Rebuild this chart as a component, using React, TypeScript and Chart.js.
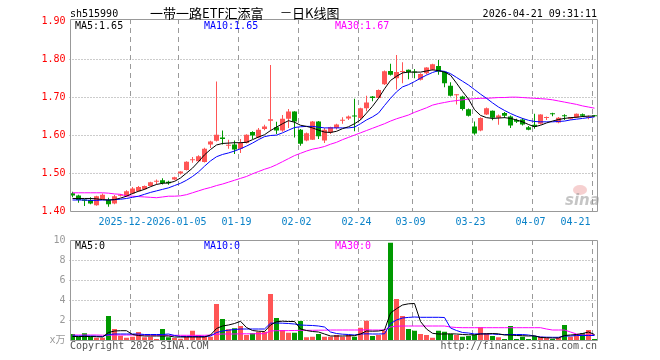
import React, { useEffect, useRef } from "react";
import { Chart, registerables } from "chart.js";

Chart.register(...registerables);

const MONO = "'DejaVu Sans Mono', 'Liberation Mono', 'Noto Sans CJK SC', monospace";
const CJK = "'Noto Sans CJK SC', sans-serif";
const RED = "#ff5555";
const GREEN = "#009900";

const dates = [
  "2025-12-08", "2025-12-09", "2025-12-10", "2025-12-11", "2025-12-12", "2025-12-15", "2025-12-16", "2025-12-17", "2025-12-18", "2025-12-19",
  "2025-12-22", "2025-12-23", "2025-12-24", "2025-12-25", "2025-12-26", "2025-12-29", "2025-12-30", "2025-12-31", "2026-01-05", "2026-01-06",
  "2026-01-07", "2026-01-08", "2026-01-09", "2026-01-12", "2026-01-13", "2026-01-14", "2026-01-15", "2026-01-16", "2026-01-19", "2026-01-20",
  "2026-01-21", "2026-01-22", "2026-01-23", "2026-01-26", "2026-01-27", "2026-01-28", "2026-01-29", "2026-01-30", "2026-02-02", "2026-02-03",
  "2026-02-04", "2026-02-05", "2026-02-06", "2026-02-09", "2026-02-10", "2026-02-11", "2026-02-12", "2026-02-13", "2026-02-24", "2026-02-25",
  "2026-02-26", "2026-02-27", "2026-03-02", "2026-03-03", "2026-03-04", "2026-03-05", "2026-03-06", "2026-03-09", "2026-03-10", "2026-03-11",
  "2026-03-12", "2026-03-13", "2026-03-16", "2026-03-17", "2026-03-18", "2026-03-19", "2026-03-20", "2026-03-23", "2026-03-24", "2026-03-25",
  "2026-03-26", "2026-03-27", "2026-03-30", "2026-03-31", "2026-04-01", "2026-04-02", "2026-04-03", "2026-04-07", "2026-04-08", "2026-04-09",
  "2026-04-10", "2026-04-13", "2026-04-14", "2026-04-15", "2026-04-16", "2026-04-17", "2026-04-20", "2026-04-21",
];

const openP = [
  1.447, 1.441, 1.430, 1.429, 1.415, 1.431, 1.429, 1.420, 1.440, 1.439,
  1.446, 1.452, 1.457, 1.466, 1.477, 1.481, 1.477, 1.483, 1.499, 1.508,
  1.534, 1.531, 1.529, 1.575, 1.585, 1.594, 1.572, 1.575, 1.564, 1.579,
  1.608, 1.594, 1.616, 1.638, 1.621, 1.612, 1.643, 1.662, 1.614, 1.586,
  1.588, 1.636, 1.586, 1.607, 1.619, 1.638, 1.644, 1.651, 1.645, 1.671,
  1.702, 1.698, 1.734, 1.769, 1.750, 1.766, 1.772, 1.767, 1.746, 1.763,
  1.772, 1.782, 1.767, 1.730, 1.705, 1.702, 1.668, 1.623, 1.612, 1.654,
  1.664, 1.646, 1.658, 1.649, 1.640, 1.641, 1.621, 1.627, 1.630, 1.645,
  1.656, 1.633, 1.651, 1.643, 1.647, 1.655, 1.645, 1.651,
];
const highP = [
  1.451, 1.443, 1.431, 1.436, 1.440, 1.446, 1.435, 1.442, 1.445, 1.455,
  1.463, 1.466, 1.467, 1.477, 1.483, 1.486, 1.480, 1.490, 1.505, 1.531,
  1.542, 1.547, 1.567, 1.585, 1.741, 1.612, 1.588, 1.586, 1.590, 1.602,
  1.610, 1.619, 1.627, 1.785, 1.635, 1.653, 1.669, 1.663, 1.616, 1.607,
  1.637, 1.637, 1.619, 1.622, 1.630, 1.647, 1.652, 1.696, 1.672, 1.704,
  1.703, 1.720, 1.770, 1.788, 1.811, 1.792, 1.773, 1.774, 1.763, 1.779,
  1.788, 1.798, 1.768, 1.739, 1.708, 1.704, 1.670, 1.636, 1.647, 1.673,
  1.665, 1.654, 1.661, 1.652, 1.643, 1.645, 1.624, 1.656, 1.655, 1.649,
  1.659, 1.648, 1.655, 1.648, 1.657, 1.657, 1.652, 1.653,
];
const lowP = [
  1.436, 1.422, 1.413, 1.418, 1.414, 1.430, 1.411, 1.418, 1.438, 1.437,
  1.444, 1.451, 1.456, 1.465, 1.470, 1.470, 1.469, 1.481, 1.496, 1.507,
  1.527, 1.529, 1.528, 1.566, 1.583, 1.575, 1.564, 1.550, 1.553, 1.578,
  1.590, 1.592, 1.613, 1.610, 1.603, 1.609, 1.619, 1.594, 1.572, 1.584,
  1.587, 1.590, 1.579, 1.603, 1.615, 1.630, 1.640, 1.610, 1.640, 1.663,
  1.689, 1.697, 1.732, 1.757, 1.720, 1.737, 1.747, 1.750, 1.744, 1.760,
  1.770, 1.759, 1.726, 1.702, 1.681, 1.665, 1.649, 1.601, 1.610, 1.653,
  1.639, 1.627, 1.645, 1.619, 1.632, 1.625, 1.613, 1.617, 1.628, 1.640,
  1.650, 1.631, 1.640, 1.641, 1.645, 1.648, 1.642, 1.649,
];
const closeP = [
  1.441, 1.429, 1.427, 1.420, 1.439, 1.443, 1.418, 1.439, 1.443, 1.452,
  1.459, 1.463, 1.466, 1.476, 1.479, 1.474, 1.473, 1.489, 1.504, 1.530,
  1.536, 1.544, 1.564, 1.583, 1.601, 1.590, 1.574, 1.562, 1.579, 1.601,
  1.599, 1.614, 1.623, 1.642, 1.612, 1.643, 1.662, 1.636, 1.577, 1.605,
  1.636, 1.597, 1.614, 1.621, 1.628, 1.640, 1.649, 1.649, 1.671, 1.686,
  1.698, 1.719, 1.768, 1.759, 1.766, 1.768, 1.766, 1.765, 1.761, 1.778,
  1.787, 1.767, 1.737, 1.704, 1.708, 1.669, 1.651, 1.604, 1.645, 1.671,
  1.646, 1.652, 1.651, 1.625, 1.635, 1.628, 1.614, 1.622, 1.654, 1.646,
  1.655, 1.646, 1.650, 1.647, 1.656, 1.651, 1.648, 1.650,
];

const ma5 = [
  1.433, 1.433, 1.433, 1.433, 1.432, 1.430, 1.429, 1.430, 1.434, 1.439,
  1.446, 1.452, 1.457, 1.464, 1.470, 1.473, 1.474, 1.478, 1.487, 1.500,
  1.513, 1.530, 1.548, 1.562, 1.574, 1.578, 1.579, 1.580, 1.580, 1.581,
  1.588, 1.595, 1.601, 1.612, 1.621, 1.630, 1.638, 1.634, 1.626, 1.623,
  1.619, 1.613, 1.608, 1.607, 1.610, 1.617, 1.622, 1.630, 1.640, 1.658,
  1.676, 1.697, 1.722, 1.744, 1.755, 1.764, 1.766, 1.766, 1.766, 1.769,
  1.772, 1.770, 1.766, 1.758, 1.737, 1.715, 1.695, 1.667, 1.652, 1.646,
  1.644, 1.645, 1.646, 1.644, 1.640, 1.635, 1.628, 1.622, 1.626, 1.632,
  1.637, 1.641, 1.644, 1.646, 1.647, 1.649, 1.650, 1.650,
];
const ma10 = [
  1.429, 1.429, 1.429, 1.428, 1.428, 1.429, 1.429, 1.430, 1.431, 1.433,
  1.436, 1.439, 1.444, 1.449, 1.453, 1.457, 1.461, 1.467, 1.473, 1.481,
  1.491, 1.503, 1.518, 1.532, 1.543, 1.549, 1.553, 1.558, 1.564, 1.571,
  1.579, 1.588, 1.596, 1.599, 1.600, 1.606, 1.613, 1.620, 1.622, 1.623,
  1.623, 1.621, 1.619, 1.619, 1.619, 1.619, 1.619, 1.621, 1.630, 1.640,
  1.648, 1.658, 1.678, 1.697, 1.714, 1.727, 1.733, 1.741, 1.750, 1.758,
  1.765, 1.770, 1.768, 1.762, 1.752, 1.742, 1.732, 1.720, 1.708, 1.697,
  1.685, 1.674, 1.665, 1.657, 1.650, 1.644, 1.639, 1.636, 1.635, 1.635,
  1.635, 1.636, 1.637, 1.640, 1.642, 1.644, 1.646, 1.648,
];
const ma30 = [
  1.448, 1.448, 1.448, 1.448, 1.448, 1.448, 1.447, 1.445, 1.444, 1.440,
  1.439, 1.438, 1.437, 1.436, 1.435, 1.437, 1.439, 1.439, 1.440, 1.443,
  1.448, 1.453, 1.458, 1.462, 1.467, 1.471, 1.476, 1.481, 1.486, 1.491,
  1.498, 1.504, 1.510, 1.515, 1.522, 1.530, 1.538, 1.546, 1.552, 1.558,
  1.563, 1.566, 1.570, 1.576, 1.581, 1.588, 1.594, 1.600, 1.606, 1.612,
  1.618, 1.624, 1.630, 1.637, 1.643, 1.648, 1.653, 1.660, 1.666, 1.672,
  1.679, 1.683, 1.686, 1.689, 1.691, 1.693, 1.695, 1.696, 1.697, 1.697,
  1.698, 1.699, 1.699, 1.700, 1.700, 1.699, 1.698, 1.697, 1.696, 1.695,
  1.693, 1.690, 1.687, 1.684, 1.681, 1.677, 1.674, 1.671,
];

const volume = [
  0.6, 0.33, 0.67, 0.33, 0.23, 0.23, 2.4, 1.1, 0.43, 0.23,
  0.33, 0.8, 0.27, 0.33, 0.1, 1.1, 0.27, 0.2, 0.13, 0.33,
  0.93, 0.5, 0.4, 0.33, 3.6, 2.1, 1.07, 1.17, 1.4, 0.5,
  0.67, 0.83, 0.83, 4.6, 2.2, 1.0, 0.73, 0.73, 1.9, 0.27,
  0.33, 0.6, 0.33, 0.33, 0.5, 0.33, 0.5, 0.33, 1.23, 1.93,
  0.4, 0.5, 0.93, 9.73, 4.1, 2.4, 1.1, 0.93, 0.6, 0.5,
  0.23, 0.93, 0.83, 0.6, 0.5, 0.33, 0.4, 0.5, 1.27, 0.67,
  0.4, 0.27, 0.1, 1.4, 0.1, 0.33, 0.1, 0.4, 0.33, 0.2,
  0.1, 0.23, 1.5, 0.33, 0.57, 0.67, 1.0, 0.1,
];
const volMa5 = [
  0.35, 0.35, 0.35, 0.35, 0.33, 0.3, 0.75, 0.9, 0.93, 0.93,
  0.55, 0.45, 0.4, 0.4, 0.4, 0.4, 0.4, 0.3, 0.3, 0.3,
  0.3, 0.3, 0.3, 0.5, 1.15, 1.4, 1.5, 1.65, 1.87, 1.25,
  0.95, 0.88, 0.85, 1.5, 1.83, 1.88, 1.85, 1.85, 1.1, 0.95,
  0.85, 0.8, 0.6, 0.4, 0.4, 0.4, 0.42, 0.43, 0.6, 0.9,
  0.88, 0.9, 1.0, 2.7, 3.13, 3.5, 3.62, 3.65, 1.85, 1.1,
  0.67, 0.6, 0.6, 0.62, 0.6, 0.55, 0.52, 0.52, 0.6, 0.62,
  0.65, 0.62, 0.5, 0.5, 0.45, 0.43, 0.4, 0.42, 0.25, 0.23,
  0.2, 0.2, 0.45, 0.5, 0.55, 0.65, 0.8, 0.55,
];
const volMa10 = [
  0.4, 0.4, 0.4, 0.4, 0.38, 0.35, 0.55, 0.6, 0.6, 0.6,
  0.6, 0.6, 0.55, 0.55, 0.55, 0.55, 0.6, 0.45, 0.35, 0.35,
  0.35, 0.35, 0.35, 0.4, 0.75, 0.9, 0.98, 1.05, 1.1, 1.1,
  1.1, 1.1, 1.1, 1.68, 1.7, 1.68, 1.65, 1.6, 1.5, 1.47,
  1.45, 1.4, 1.3, 0.8, 0.65, 0.58, 0.55, 0.5, 0.6, 0.62,
  0.6, 0.6, 0.62, 1.64, 2.0, 2.2, 2.26, 2.3, 2.27, 2.27,
  2.27, 2.27, 2.25, 1.2, 0.95, 0.75, 0.7, 0.6, 0.62, 0.6,
  0.6, 0.55, 0.55, 0.55, 0.55, 0.55, 0.5, 0.4, 0.3, 0.28,
  0.27, 0.27, 0.4, 0.4, 0.45, 0.45, 0.45, 0.45,
];
const volMa30 = [
  0.5, 0.5, 0.5, 0.5, 0.5, 0.48, 0.48, 0.5, 0.5, 0.5,
  0.5, 0.5, 0.48, 0.48, 0.47, 0.47, 0.47, 0.47, 0.47, 0.47,
  0.47, 0.47, 0.47, 0.5, 0.57, 0.6, 0.6, 0.6, 0.62, 0.62,
  0.62, 0.63, 0.63, 0.9, 0.93, 0.93, 0.94, 0.95, 0.97, 0.97,
  0.97, 0.98, 0.98, 1.0, 1.0, 1.0, 1.0, 1.0, 1.0, 1.02,
  1.0, 1.0, 1.0, 1.3, 1.38, 1.4, 1.4, 1.4, 1.4, 1.4,
  1.4, 1.4, 1.4, 1.3, 1.25, 1.23, 1.23, 1.23, 1.23, 1.23,
  1.23, 1.23, 1.23, 1.23, 1.23, 1.23, 1.23, 1.23, 1.23, 1.1,
  1.0, 1.0, 1.0, 0.8, 0.6, 0.5, 0.5, 0.5,
];

const tickIdx = [10, 18, 28, 38, 48, 57, 67, 77, 87];
const tickText = ["2025-12-22", "2026-01-05", "01-19", "02-02", "02-24", "03-09", "03-23", "04-07", "04-21"];
const priceTicks = [1.4, 1.5, 1.6, 1.7, 1.8, 1.9];
const volTicks = [0, 2, 4, 6, 8, 10];
const volUnit = "x万";

const symbol = "sh515990";
const titleName = "一带一路ETF汇添富";
const titleDash = "一";
const titleKind = "日K线图";
const stamp = "2026-04-21 09:31:11";
const priceLegend = ["MA5:1.65", "MA10:1.65", "MA30:1.67"];
const volLegend = ["MA5:0", "MA10:0", "MA30:0"];
const legendColors = ["#000000", "#0000ff", "#ff00ff"];

const candleColors = closeP.map((c, i) => (c >= openP[i] ? RED : GREEN));

function xAxis(h: number) {
  return {
    type: "category" as const,
    offset: true,
    ticks: { display: false, autoSkip: false },
    grid: { display: false, offset: true, drawTicks: false },
    border: { display: false },
    afterFit: (s: any) => {
      s.height = h;
    },
  };
}

function makeGridPlugin(yTicks: number[]) {
  return {
    id: "sinaGrid",
    beforeDatasetsDraw(chart: any) {
      const ctx: CanvasRenderingContext2D = chart.ctx;
      const a = chart.chartArea;
      const xs = chart.scales.x;
      const ys = chart.scales.y;
      ctx.save();
      ctx.lineWidth = 1;
      ctx.strokeStyle = "#999999";
      ctx.setLineDash([1, 2]);
      yTicks.forEach((v) => {
        if (v <= ys.min + 1e-9 || v >= ys.max - (ys.max - ys.min) * 0.02) return;
        const y = Math.floor(ys.getPixelForValue(v)) + 0.5;
        ctx.beginPath();
        ctx.moveTo(a.left, y);
        ctx.lineTo(a.right, y);
        ctx.stroke();
      });
      const slot = xs.getPixelForValue(1) - xs.getPixelForValue(0);
      ctx.strokeStyle = "#9a9a9a";
      ctx.setLineDash([5, 4]);
      tickIdx.forEach((idx) => {
        const x = Math.round(xs.getPixelForValue(idx) - slot / 2) + 0.5;
        ctx.beginPath();
        ctx.moveTo(x, a.top);
        ctx.lineTo(x, a.bottom);
        ctx.stroke();
      });
      ctx.restore();
    },
  };
}

function drawFrame(ctx: CanvasRenderingContext2D, a: any) {
  const L = Math.round(a.left) + 0.5;
  const R = Math.floor(a.right) + 0.5;
  const T = Math.floor(a.top) + 0.5;
  const B = Math.floor(a.bottom) + 0.5;
  ctx.strokeStyle = "#999999";
  ctx.lineWidth = 1;
  ctx.setLineDash([]);
  ctx.beginPath();
  ctx.moveTo(L, T);
  ctx.lineTo(R, T);
  ctx.lineTo(R, B);
  ctx.lineTo(L, B);
  ctx.closePath();
  ctx.stroke();
}

function drawLegend(ctx: CanvasRenderingContext2D, texts: string[], y: number) {
  const xs = [75, 204, 335];
  ctx.font = `10px ${MONO}`;
  ctx.textAlign = "left";
  ctx.textBaseline = "alphabetic";
  texts.forEach((t, k) => {
    ctx.fillStyle = legendColors[k];
    ctx.fillText(t, xs[k], y);
  });
}

const pricePlugin = {
  id: "priceDecor",
  afterDraw(chart: any) {
    const ctx: CanvasRenderingContext2D = chart.ctx;
    const a = chart.chartArea;
    const xs = chart.scales.x;
    ctx.save();
    drawFrame(ctx, a);
    ctx.textBaseline = "alphabetic";
    ctx.font = `10px ${MONO}`;
    ctx.fillStyle = "#000";
    ctx.textAlign = "left";
    ctx.fillText(symbol, 70, 17);
    ctx.textAlign = "right";
    ctx.fillText(stamp, 597, 17);
    ctx.textAlign = "left";
    ctx.textBaseline = "middle";
    ctx.font = `13px ${CJK}`;
    ctx.fillText(titleName, 150, 13);
    ctx.font = `10px ${CJK}`;
    ctx.fillText(titleDash, 281, 13);
    ctx.font = `13px ${CJK}`;
    ctx.fillText(titleKind, 292, 13);
    drawLegend(ctx, priceLegend, 29);
    const slot = xs.getPixelForValue(1) - xs.getPixelForValue(0);
    ctx.font = `10px ${MONO}`;
    ctx.textBaseline = "alphabetic";
    ctx.textAlign = "left";
    tickIdx.forEach((idx, k) => {
      const gx = xs.getPixelForValue(idx) - slot / 2;
      const w = ctx.measureText(tickText[k]).width;
      let x0 = gx - w / 2 - 1;
      if (x0 + w > a.right - 2) x0 = gx - w - 1;
      ctx.fillStyle = "#ffffff";
      ctx.fillRect(x0 - 1, 214, w + 2, 13);
      ctx.fillStyle = "#0a82c8";
      ctx.fillText(tickText[k], x0, 225);
    });
    ctx.fillStyle = "rgba(235,150,150,0.45)";
    ctx.beginPath();
    ctx.ellipse(580, 190, 7, 5, 0, 0, Math.PI * 2);
    ctx.fill();
    ctx.fillStyle = "rgba(150,150,150,0.55)";
    ctx.font = `italic bold 15px 'DejaVu Sans', sans-serif`;
    ctx.fillText("sina", 565, 205);
    ctx.restore();
  },
};

const volPlugin = {
  id: "volDecor",
  afterDraw(chart: any) {
    const ctx: CanvasRenderingContext2D = chart.ctx;
    const a = chart.chartArea;
    ctx.save();
    drawFrame(ctx, a);
    drawLegend(ctx, volLegend, 249);
    ctx.font = `10px ${MONO}`;
    ctx.fillStyle = "#555555";
    ctx.textBaseline = "alphabetic";
    ctx.textAlign = "left";
    ctx.fillText("Copyright 2026 SINA.COM", 70, 349);
    ctx.textAlign = "right";
    ctx.fillText("http://finance.sina.com.cn", 597, 349);
    ctx.restore();
  },
};

export default function App() {
  const priceRef = useRef<HTMLCanvasElement>(null);
  const volRef = useRef<HTMLCanvasElement>(null);

  useEffect(() => {
    const common = {
      responsive: false,
      maintainAspectRatio: false,
      animation: false as const,
      devicePixelRatio: 1,
      events: [] as any[],
      plugins: { legend: { display: false }, tooltip: { enabled: false } },
    };

    const price = new Chart(priceRef.current!, {
      type: "bar",
      data: {
        labels: dates,
        datasets: [
          { type: "line", data: ma5, borderColor: "#000000", borderWidth: 1, pointRadius: 0, order: 0 },
          { type: "line", data: ma10, borderColor: "#0000ff", borderWidth: 1, pointRadius: 0, order: 0 },
          { type: "line", data: ma30, borderColor: "#ff00ff", borderWidth: 1, pointRadius: 0, order: 0 },
          {
            type: "bar",
            data: openP.map((o, i) => [o, closeP[i]]),
            backgroundColor: candleColors,
            barThickness: 5,
            minBarLength: 1,
            grouped: false,
            inflateAmount: 0,
            borderWidth: 0,
            order: 1,
          },
          {
            type: "bar",
            data: lowP.map((l, i) => [l, highP[i]]),
            backgroundColor: candleColors,
            barThickness: 1,
            grouped: false,
            inflateAmount: 0,
            borderWidth: 0,
            order: 2,
          },
        ] as any,
      },
      options: {
        ...common,
        layout: { padding: { left: 0, top: 19, right: 62.5, bottom: 0 } },
        scales: {
          x: xAxis(149) as any,
          y: {
            min: 1.4,
            max: 1.906,
            afterBuildTicks: (s: any) => {
              s.ticks = priceTicks.map((v) => ({ value: v }));
            },
            ticks: {
              color: "#ff0000",
              font: { family: MONO, size: 10 },
              padding: 4,
              callback: (v: any) => Number(v).toFixed(2),
            },
            grid: { display: false, drawTicks: false },
            border: { display: false },
            afterFit: (s: any) => {
              s.width = 69.5;
            },
          } as any,
        },
      },
      plugins: [makeGridPlugin(priceTicks), pricePlugin],
    });

    const vol = new Chart(volRef.current!, {
      type: "bar",
      data: {
        labels: dates,
        datasets: [
          { type: "line", data: volMa5, borderColor: "#000000", borderWidth: 1, pointRadius: 0, order: 0 },
          { type: "line", data: volMa10, borderColor: "#0000ff", borderWidth: 1, pointRadius: 0, order: 0 },
          { type: "line", data: volMa30, borderColor: "#ff00ff", borderWidth: 1, pointRadius: 0, order: 0 },
          {
            type: "bar",
            data: volume,
            backgroundColor: candleColors,
            barThickness: 5,
            grouped: false,
            inflateAmount: 0,
            borderWidth: 0,
            order: 1,
          },
        ] as any,
      },
      options: {
        ...common,
        layout: { padding: { left: 0, top: 240, right: 62.5, bottom: 0 } },
        scales: {
          x: xAxis(20) as any,
          y: {
            min: 0,
            max: 10,
            afterBuildTicks: (s: any) => {
              s.ticks = volTicks.map((v) => ({ value: v }));
            },
            ticks: {
              color: "#999999",
              font: { family: MONO, size: 10 },
              padding: 4,
              callback: (v: any) => (Number(v) === 0 ? volUnit : String(v)),
            },
            grid: { display: false, drawTicks: false },
            border: { display: false },
            afterFit: (s: any) => {
              s.width = 69.5;
            },
          } as any,
        },
      },
      plugins: [makeGridPlugin(volTicks), volPlugin],
    });

    return () => {
      price.destroy();
      vol.destroy();
    };
  }, []);

  return (
    <div style={{ position: "absolute", left: 0, top: 0, width: 660, height: 360, background: "#ffffff" }}>
      <canvas ref={priceRef} width={660} height={360} style={{ position: "absolute", left: 0, top: 0 }} />
      <canvas ref={volRef} width={660} height={360} style={{ position: "absolute", left: 0, top: 0 }} />
    </div>
  );
}
